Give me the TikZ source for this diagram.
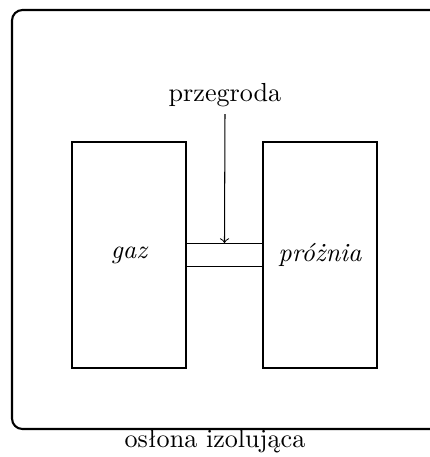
\documentclass[tikz,border=0pt]{standalone}
\begin{document}
\begin{tikzpicture}[x=0.383pt,y=-0.383pt,
  box/.style={draw,line width=0.4pt,inner sep=0pt,minimum width={114*0.383pt},minimum height={226*0.383pt},font=\itshape},
  part/.style={draw,line width=0.4pt,inner sep=0pt,minimum width={75.5*0.383pt},minimum height={23*0.383pt}},
  lab/.style={inner sep=0pt}]
\useasboundingbox (0,0) rectangle (430,457);
\begin{scope}
\clip (0,0) rectangle (430,457);
\draw[line width=0.8pt,rounded corners=4pt] (12,10) rectangle (460,429);
\end{scope}
\node[box] (gaz) at (129,255) {gaz};
\node[box] (proz) at (320,255) {próżnia};
\node[part] (p) at (224.5,255) {};
\node[lab] (pl) at (225,95) {przegroda};
\node[lab] (os) at (215,441) {osłona izolująca};
\coordinate (ps) at (225,114);
\draw[->] (ps) -- (p.north);
\end{tikzpicture}
\end{document}
